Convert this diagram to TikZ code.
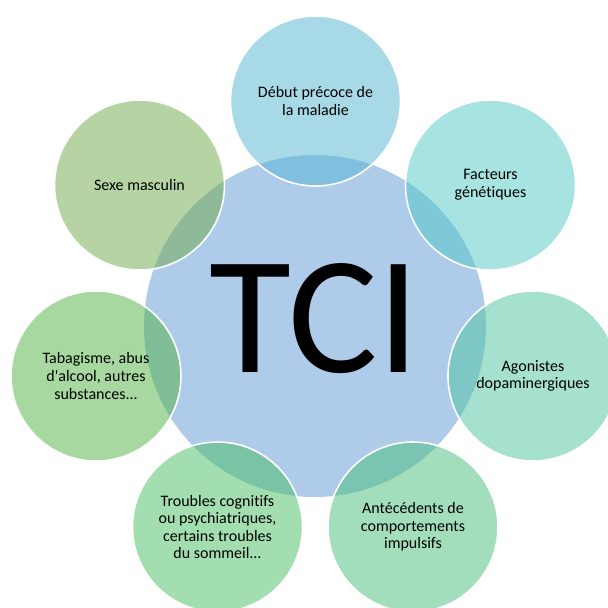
\documentclass[tikz,border=0pt]{standalone}
\usepackage{fontspec}
\setmainfont{Carlito}[Ligatures={TeX,NoCommon}]
\definecolor{cCenter}{RGB}{174,203,234}
\definecolor{cDebut}{RGB}{83,181,209}
\definecolor{cFact}{RGB}{79,201,197}
\definecolor{cAgon}{RGB}{77,197,159}
\definecolor{cAnte}{RGB}{71,191,123}
\definecolor{cTroub}{RGB}{71,191,97}
\definecolor{cTaba}{RGB}{81,179,67}
\definecolor{cSexe}{RGB}{111,171,73}
\begin{document}
\begin{tikzpicture}[x=1pt,y=-1pt,
  outer/.style={circle, minimum size=170pt, inner sep=0pt, fill=#1, fill opacity=0.5,
    text opacity=1, draw=white, draw opacity=1, line width=1.6pt, align=center,
    font=\fontsize{16pt}{17.6pt}\selectfont, text=black},
  hub/.style={circle, minimum size=342pt, inner sep=0pt, fill=cCenter, draw=none}]
\useasboundingbox (0,0) rectangle (608,608);
\fill[white] (0,0) rectangle (608,608);
\node[hub] (hub) at (315,326) {};
\node[font=\fontsize{168pt}{168pt}\selectfont, text=black, inner sep=0pt] (tci) at (315,319) {TCI};
\node[outer=cDebut] (debut) at (315.5,101) {Début précoce de\\la maladie};
\node[outer=cFact] (fact) at (490.5,185) {Facteurs\\génétiques};
\node[outer=cAgon] (agon) at (533,376) {Agonistes\\dopaminergiques};
\node[outer=cAnte] (ante) at (413,527) {Antécédents de\\comportements\\impulsifs};
\node[outer=cTroub] (troub) at (217.5,527) {Troubles cognitifs\\ou psychiatriques,\\certains troubles\\du sommeil...};
\node[outer=cTaba] (taba) at (96,376) {Tabagisme, abus\\d\textquotesingle alcool, autres\\substances...};
\node[outer=cSexe] (sexe) at (139.5,185) {Sexe masculin};
\end{tikzpicture}
\end{document}
